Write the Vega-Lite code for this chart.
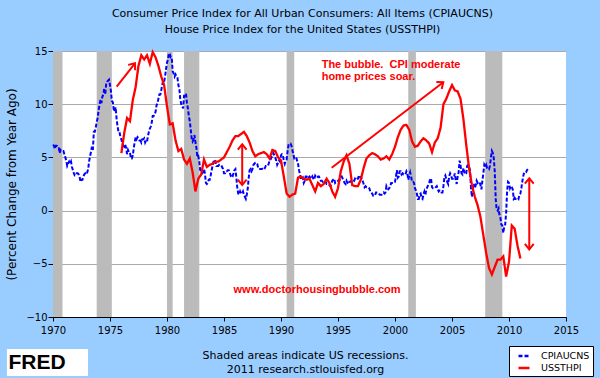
{
"$schema":"https://vega.github.io/schema/vega-lite/v6.json",
"width":513,"height":266,
"autosize":{"type":"none"},
"padding":{"left":53,"top":51,"right":34,"bottom":61},
"background":"#99CCFF",
"title":{"text":["Consumer Price Index for All Urban Consumers: All Items (CPIAUCNS)","House Price Index for the United States (USSTHPI)"],"fontSize":11,"fontWeight":"normal","font":"DejaVu Sans","lineHeight":16,"offset":11,"dx":-7,"anchor":"middle","frame":"group","color":"black"},
"config":{
"font":"DejaVu Sans",
"view":{"fill":"white","stroke":null},
"axis":{"labelColor":"black","titleColor":"black","domainColor":"black","tickColor":"black","labelFontSize":10,"titleFontWeight":"normal","labelFont":"DejaVu Sans","titleFont":"DejaVu Sans"},
"axisX":{"grid":false,"tickSize":4,"labelPadding":4,"labelFlush":false,"titleFontSize":11,"titlePadding":14,"titleLineHeight":14,"titleX":252},
"axisY":{"gridColor":"#AAAAAA","gridOpacity":1,"tickSize":5,"labelPadding":1,"titleFontSize":12,"titlePadding":7},
"legend":{"orient":"none","legendX":456,"legendY":295,"fillColor":"white","strokeColor":"black","padding":3,"symbolType":"stroke","symbolSize":121,"symbolStrokeWidth":2.5,"labelFontSize":9.5,"labelFont":"DejaVu Sans","labelColor":"black","labelOffset":10,"rowPadding":0,"symbolOffset":5}
},
"datasets":{
"rec":[{"start":"1969-12","end":"1970-11"},{"start":"1973-11","end":"1975-03"},{"start":"1980-01","end":"1980-07"},{"start":"1981-07","end":"1982-11"},{"start":"1990-07","end":"1991-03"},{"start":"2001-03","end":"2001-11"},{"start":"2007-12","end":"2009-06"}],
"cpi":[
{"d":"1970-01","v":6.2},{"d":"1970-02","v":6.1},{"d":"1970-03","v":5.8},{"d":"1970-04","v":6.1},{"d":"1970-05","v":6.1},{"d":"1970-06","v":6.0},{"d":"1970-07","v":6.0},{"d":"1970-08","v":5.4},{"d":"1970-09","v":5.7},{"d":"1970-10","v":5.6},{"d":"1970-11","v":5.6},{"d":"1970-12","v":5.6},
{"d":"1971-01","v":5.3},{"d":"1971-02","v":5.0},{"d":"1971-03","v":4.7},{"d":"1971-04","v":4.2},{"d":"1971-05","v":4.4},{"d":"1971-06","v":4.6},{"d":"1971-07","v":4.4},{"d":"1971-08","v":4.6},{"d":"1971-09","v":4.1},{"d":"1971-10","v":3.8},{"d":"1971-11","v":3.5},{"d":"1971-12","v":3.3},
{"d":"1972-01","v":3.3},{"d":"1972-02","v":3.5},{"d":"1972-03","v":3.5},{"d":"1972-04","v":3.4},{"d":"1972-05","v":3.2},{"d":"1972-06","v":2.7},{"d":"1972-07","v":2.9},{"d":"1972-08","v":2.9},{"d":"1972-09","v":3.2},{"d":"1972-10","v":3.4},{"d":"1972-11","v":3.5},{"d":"1972-12","v":3.4},
{"d":"1973-01","v":3.6},{"d":"1973-02","v":3.9},{"d":"1973-03","v":4.6},{"d":"1973-04","v":5.1},{"d":"1973-05","v":5.5},{"d":"1973-06","v":6.0},{"d":"1973-07","v":5.7},{"d":"1973-08","v":7.4},{"d":"1973-09","v":7.4},{"d":"1973-10","v":7.8},{"d":"1973-11","v":8.3},{"d":"1973-12","v":8.7},
{"d":"1974-01","v":9.4},{"d":"1974-02","v":10.0},{"d":"1974-03","v":10.4},{"d":"1974-04","v":10.1},{"d":"1974-05","v":10.7},{"d":"1974-06","v":10.9},{"d":"1974-07","v":11.5},{"d":"1974-08","v":10.9},{"d":"1974-09","v":11.9},{"d":"1974-10","v":12.1},{"d":"1974-11","v":12.2},{"d":"1974-12","v":12.3},
{"d":"1975-01","v":11.8},{"d":"1975-02","v":11.2},{"d":"1975-03","v":10.3},{"d":"1975-04","v":10.2},{"d":"1975-05","v":9.5},{"d":"1975-06","v":9.3},{"d":"1975-07","v":9.7},{"d":"1975-08","v":8.6},{"d":"1975-09","v":7.9},{"d":"1975-10","v":7.4},{"d":"1975-11","v":7.4},{"d":"1975-12","v":6.9},
{"d":"1976-01","v":6.7},{"d":"1976-02","v":6.3},{"d":"1976-03","v":6.1},{"d":"1976-04","v":6.0},{"d":"1976-05","v":6.2},{"d":"1976-06","v":5.9},{"d":"1976-07","v":5.3},{"d":"1976-08","v":5.7},{"d":"1976-09","v":5.5},{"d":"1976-10","v":5.5},{"d":"1976-11","v":4.9},{"d":"1976-12","v":4.9},
{"d":"1977-01","v":5.2},{"d":"1977-02","v":5.9},{"d":"1977-03","v":6.4},{"d":"1977-04","v":6.9},{"d":"1977-05","v":6.7},{"d":"1977-06","v":6.9},{"d":"1977-07","v":6.8},{"d":"1977-08","v":6.6},{"d":"1977-09","v":6.6},{"d":"1977-10","v":6.4},{"d":"1977-11","v":6.7},{"d":"1977-12","v":6.7},
{"d":"1978-01","v":6.8},{"d":"1978-02","v":6.4},{"d":"1978-03","v":6.6},{"d":"1978-04","v":6.5},{"d":"1978-05","v":7.0},{"d":"1978-06","v":7.4},{"d":"1978-07","v":7.7},{"d":"1978-08","v":7.9},{"d":"1978-09","v":8.3},{"d":"1978-10","v":8.9},{"d":"1978-11","v":8.9},{"d":"1978-12","v":9.0},
{"d":"1979-01","v":9.3},{"d":"1979-02","v":9.9},{"d":"1979-03","v":10.1},{"d":"1979-04","v":10.5},{"d":"1979-05","v":10.9},{"d":"1979-06","v":10.9},{"d":"1979-07","v":11.3},{"d":"1979-08","v":11.8},{"d":"1979-09","v":12.2},{"d":"1979-10","v":12.1},{"d":"1979-11","v":12.6},{"d":"1979-12","v":13.3},
{"d":"1980-01","v":13.9},{"d":"1980-02","v":14.2},{"d":"1980-03","v":14.8},{"d":"1980-04","v":14.7},{"d":"1980-05","v":14.4},{"d":"1980-06","v":14.4},{"d":"1980-07","v":13.1},{"d":"1980-08","v":12.9},{"d":"1980-09","v":12.6},{"d":"1980-10","v":12.8},{"d":"1980-11","v":12.6},{"d":"1980-12","v":12.5},
{"d":"1981-01","v":11.8},{"d":"1981-02","v":11.4},{"d":"1981-03","v":10.5},{"d":"1981-04","v":10.0},{"d":"1981-05","v":9.8},{"d":"1981-06","v":9.6},{"d":"1981-07","v":10.8},{"d":"1981-08","v":10.8},{"d":"1981-09","v":11.0},{"d":"1981-10","v":10.1},{"d":"1981-11","v":9.6},{"d":"1981-12","v":8.9},
{"d":"1982-01","v":8.4},{"d":"1982-02","v":7.6},{"d":"1982-03","v":6.8},{"d":"1982-04","v":6.5},{"d":"1982-05","v":6.7},{"d":"1982-06","v":7.1},{"d":"1982-07","v":6.4},{"d":"1982-08","v":5.9},{"d":"1982-09","v":5.0},{"d":"1982-10","v":5.1},{"d":"1982-11","v":4.6},{"d":"1982-12","v":3.8},
{"d":"1983-01","v":3.7},{"d":"1983-02","v":3.5},{"d":"1983-03","v":3.6},{"d":"1983-04","v":3.9},{"d":"1983-05","v":3.5},{"d":"1983-06","v":2.6},{"d":"1983-07","v":2.5},{"d":"1983-08","v":2.6},{"d":"1983-09","v":2.9},{"d":"1983-10","v":2.9},{"d":"1983-11","v":3.3},{"d":"1983-12","v":3.8},
{"d":"1984-01","v":4.2},{"d":"1984-02","v":4.6},{"d":"1984-03","v":4.8},{"d":"1984-04","v":4.6},{"d":"1984-05","v":4.2},{"d":"1984-06","v":4.2},{"d":"1984-07","v":4.2},{"d":"1984-08","v":4.3},{"d":"1984-09","v":4.3},{"d":"1984-10","v":4.3},{"d":"1984-11","v":4.1},{"d":"1984-12","v":3.9},
{"d":"1985-01","v":3.5},{"d":"1985-02","v":3.5},{"d":"1985-03","v":3.7},{"d":"1985-04","v":3.7},{"d":"1985-05","v":3.8},{"d":"1985-06","v":3.8},{"d":"1985-07","v":3.6},{"d":"1985-08","v":3.3},{"d":"1985-09","v":3.1},{"d":"1985-10","v":3.2},{"d":"1985-11","v":3.5},{"d":"1985-12","v":3.8},
{"d":"1986-01","v":3.9},{"d":"1986-02","v":3.1},{"d":"1986-03","v":2.2},{"d":"1986-04","v":1.6},{"d":"1986-05","v":1.5},{"d":"1986-06","v":1.8},{"d":"1986-07","v":1.6},{"d":"1986-08","v":1.6},{"d":"1986-09","v":1.8},{"d":"1986-10","v":1.5},{"d":"1986-11","v":1.3},{"d":"1986-12","v":1.1},
{"d":"1987-01","v":1.5},{"d":"1987-02","v":2.1},{"d":"1987-03","v":3.0},{"d":"1987-04","v":3.8},{"d":"1987-05","v":3.9},{"d":"1987-06","v":3.7},{"d":"1987-07","v":3.9},{"d":"1987-08","v":4.3},{"d":"1987-09","v":4.4},{"d":"1987-10","v":4.5},{"d":"1987-11","v":4.5},{"d":"1987-12","v":4.4},
{"d":"1988-01","v":4.0},{"d":"1988-02","v":3.9},{"d":"1988-03","v":3.9},{"d":"1988-04","v":3.9},{"d":"1988-05","v":3.9},{"d":"1988-06","v":4.0},{"d":"1988-07","v":4.1},{"d":"1988-08","v":4.0},{"d":"1988-09","v":4.2},{"d":"1988-10","v":4.2},{"d":"1988-11","v":4.2},{"d":"1988-12","v":4.4},
{"d":"1989-01","v":4.7},{"d":"1989-02","v":4.8},{"d":"1989-03","v":5.0},{"d":"1989-04","v":5.1},{"d":"1989-05","v":5.4},{"d":"1989-06","v":5.2},{"d":"1989-07","v":5.0},{"d":"1989-08","v":4.7},{"d":"1989-09","v":4.3},{"d":"1989-10","v":4.5},{"d":"1989-11","v":4.7},{"d":"1989-12","v":4.6},
{"d":"1990-01","v":5.2},{"d":"1990-02","v":5.3},{"d":"1990-03","v":5.2},{"d":"1990-04","v":4.7},{"d":"1990-05","v":4.4},{"d":"1990-06","v":4.7},{"d":"1990-07","v":4.8},{"d":"1990-08","v":5.6},{"d":"1990-09","v":6.2},{"d":"1990-10","v":6.3},{"d":"1990-11","v":6.3},{"d":"1990-12","v":6.1},
{"d":"1991-01","v":5.7},{"d":"1991-02","v":5.3},{"d":"1991-03","v":4.9},{"d":"1991-04","v":4.9},{"d":"1991-05","v":5.0},{"d":"1991-06","v":4.7},{"d":"1991-07","v":4.4},{"d":"1991-08","v":3.8},{"d":"1991-09","v":3.4},{"d":"1991-10","v":2.9},{"d":"1991-11","v":3.0},{"d":"1991-12","v":3.1},
{"d":"1992-01","v":2.6},{"d":"1992-02","v":2.8},{"d":"1992-03","v":3.2},{"d":"1992-04","v":3.2},{"d":"1992-05","v":3.0},{"d":"1992-06","v":3.1},{"d":"1992-07","v":3.2},{"d":"1992-08","v":3.1},{"d":"1992-09","v":3.0},{"d":"1992-10","v":3.2},{"d":"1992-11","v":3.0},{"d":"1992-12","v":2.9},
{"d":"1993-01","v":3.3},{"d":"1993-02","v":3.2},{"d":"1993-03","v":3.1},{"d":"1993-04","v":3.2},{"d":"1993-05","v":3.2},{"d":"1993-06","v":3.0},{"d":"1993-07","v":2.8},{"d":"1993-08","v":2.8},{"d":"1993-09","v":2.7},{"d":"1993-10","v":2.8},{"d":"1993-11","v":2.7},{"d":"1993-12","v":2.7},
{"d":"1994-01","v":2.5},{"d":"1994-02","v":2.5},{"d":"1994-03","v":2.5},{"d":"1994-04","v":2.4},{"d":"1994-05","v":2.3},{"d":"1994-06","v":2.5},{"d":"1994-07","v":2.8},{"d":"1994-08","v":2.9},{"d":"1994-09","v":3.0},{"d":"1994-10","v":2.6},{"d":"1994-11","v":2.7},{"d":"1994-12","v":2.7},
{"d":"1995-01","v":2.8},{"d":"1995-02","v":2.9},{"d":"1995-03","v":2.9},{"d":"1995-04","v":3.1},{"d":"1995-05","v":3.2},{"d":"1995-06","v":3.0},{"d":"1995-07","v":2.8},{"d":"1995-08","v":2.6},{"d":"1995-09","v":2.5},{"d":"1995-10","v":2.8},{"d":"1995-11","v":2.6},{"d":"1995-12","v":2.5},
{"d":"1996-01","v":2.7},{"d":"1996-02","v":2.7},{"d":"1996-03","v":2.8},{"d":"1996-04","v":2.9},{"d":"1996-05","v":2.9},{"d":"1996-06","v":2.8},{"d":"1996-07","v":3.0},{"d":"1996-08","v":2.9},{"d":"1996-09","v":3.0},{"d":"1996-10","v":3.0},{"d":"1996-11","v":3.3},{"d":"1996-12","v":3.3},
{"d":"1997-01","v":3.0},{"d":"1997-02","v":3.0},{"d":"1997-03","v":2.8},{"d":"1997-04","v":2.5},{"d":"1997-05","v":2.2},{"d":"1997-06","v":2.3},{"d":"1997-07","v":2.2},{"d":"1997-08","v":2.2},{"d":"1997-09","v":2.2},{"d":"1997-10","v":2.1},{"d":"1997-11","v":1.8},{"d":"1997-12","v":1.7},
{"d":"1998-01","v":1.6},{"d":"1998-02","v":1.4},{"d":"1998-03","v":1.4},{"d":"1998-04","v":1.4},{"d":"1998-05","v":1.7},{"d":"1998-06","v":1.7},{"d":"1998-07","v":1.7},{"d":"1998-08","v":1.6},{"d":"1998-09","v":1.5},{"d":"1998-10","v":1.5},{"d":"1998-11","v":1.5},{"d":"1998-12","v":1.6},
{"d":"1999-01","v":1.7},{"d":"1999-02","v":1.6},{"d":"1999-03","v":1.7},{"d":"1999-04","v":2.3},{"d":"1999-05","v":2.1},{"d":"1999-06","v":2.0},{"d":"1999-07","v":2.1},{"d":"1999-08","v":2.3},{"d":"1999-09","v":2.6},{"d":"1999-10","v":2.6},{"d":"1999-11","v":2.6},{"d":"1999-12","v":2.7},
{"d":"2000-01","v":2.7},{"d":"2000-02","v":3.2},{"d":"2000-03","v":3.8},{"d":"2000-04","v":3.1},{"d":"2000-05","v":3.2},{"d":"2000-06","v":3.7},{"d":"2000-07","v":3.7},{"d":"2000-08","v":3.4},{"d":"2000-09","v":3.5},{"d":"2000-10","v":3.4},{"d":"2000-11","v":3.4},{"d":"2000-12","v":3.4},
{"d":"2001-01","v":3.7},{"d":"2001-02","v":3.5},{"d":"2001-03","v":2.9},{"d":"2001-04","v":3.3},{"d":"2001-05","v":3.6},{"d":"2001-06","v":3.2},{"d":"2001-07","v":2.7},{"d":"2001-08","v":2.7},{"d":"2001-09","v":2.6},{"d":"2001-10","v":2.1},{"d":"2001-11","v":1.9},{"d":"2001-12","v":1.6},
{"d":"2002-01","v":1.1},{"d":"2002-02","v":1.1},{"d":"2002-03","v":1.5},{"d":"2002-04","v":1.6},{"d":"2002-05","v":1.2},{"d":"2002-06","v":1.1},{"d":"2002-07","v":1.5},{"d":"2002-08","v":1.8},{"d":"2002-09","v":1.5},{"d":"2002-10","v":2.0},{"d":"2002-11","v":2.2},{"d":"2002-12","v":2.4},
{"d":"2003-01","v":2.6},{"d":"2003-02","v":3.0},{"d":"2003-03","v":3.0},{"d":"2003-04","v":2.2},{"d":"2003-05","v":2.1},{"d":"2003-06","v":2.1},{"d":"2003-07","v":2.1},{"d":"2003-08","v":2.2},{"d":"2003-09","v":2.3},{"d":"2003-10","v":2.0},{"d":"2003-11","v":1.8},{"d":"2003-12","v":1.9},
{"d":"2004-01","v":1.9},{"d":"2004-02","v":1.7},{"d":"2004-03","v":1.7},{"d":"2004-04","v":2.3},{"d":"2004-05","v":3.1},{"d":"2004-06","v":3.3},{"d":"2004-07","v":3.0},{"d":"2004-08","v":2.7},{"d":"2004-09","v":2.5},{"d":"2004-10","v":3.2},{"d":"2004-11","v":3.5},{"d":"2004-12","v":3.3},
{"d":"2005-01","v":3.0},{"d":"2005-02","v":3.0},{"d":"2005-03","v":3.1},{"d":"2005-04","v":3.5},{"d":"2005-05","v":2.8},{"d":"2005-06","v":2.5},{"d":"2005-07","v":3.2},{"d":"2005-08","v":3.6},{"d":"2005-09","v":4.7},{"d":"2005-10","v":4.3},{"d":"2005-11","v":3.5},{"d":"2005-12","v":3.4},
{"d":"2006-01","v":4.0},{"d":"2006-02","v":3.6},{"d":"2006-03","v":3.4},{"d":"2006-04","v":3.5},{"d":"2006-05","v":4.2},{"d":"2006-06","v":4.3},{"d":"2006-07","v":4.1},{"d":"2006-08","v":3.8},{"d":"2006-09","v":2.1},{"d":"2006-10","v":1.3},{"d":"2006-11","v":2.0},{"d":"2006-12","v":2.5},
{"d":"2007-01","v":2.1},{"d":"2007-02","v":2.4},{"d":"2007-03","v":2.8},{"d":"2007-04","v":2.6},{"d":"2007-05","v":2.7},{"d":"2007-06","v":2.7},{"d":"2007-07","v":2.4},{"d":"2007-08","v":2.0},{"d":"2007-09","v":2.8},{"d":"2007-10","v":3.5},{"d":"2007-11","v":4.3},{"d":"2007-12","v":4.1},
{"d":"2008-01","v":4.3},{"d":"2008-02","v":4.0},{"d":"2008-03","v":4.0},{"d":"2008-04","v":3.9},{"d":"2008-05","v":4.2},{"d":"2008-06","v":5.0},{"d":"2008-07","v":5.6},{"d":"2008-08","v":5.4},{"d":"2008-09","v":4.9},{"d":"2008-10","v":3.7},{"d":"2008-11","v":1.1},{"d":"2008-12","v":0.1},
{"d":"2009-01","v":0.0},{"d":"2009-02","v":0.2},{"d":"2009-03","v":-0.4},{"d":"2009-04","v":-0.7},{"d":"2009-05","v":-1.3},{"d":"2009-06","v":-1.4},{"d":"2009-07","v":-2.1},{"d":"2009-08","v":-1.5},{"d":"2009-09","v":-1.3},{"d":"2009-10","v":-0.2},{"d":"2009-11","v":1.8},{"d":"2009-12","v":2.7},
{"d":"2010-01","v":2.6},{"d":"2010-02","v":2.1},{"d":"2010-03","v":2.3},{"d":"2010-04","v":2.2},{"d":"2010-05","v":2.0},{"d":"2010-06","v":1.1},{"d":"2010-07","v":1.2},{"d":"2010-08","v":1.1},{"d":"2010-09","v":1.1},{"d":"2010-10","v":1.2},{"d":"2010-11","v":1.1},{"d":"2010-12","v":1.5},
{"d":"2011-01","v":1.6},{"d":"2011-02","v":2.1},{"d":"2011-03","v":2.7},{"d":"2011-04","v":3.2},{"d":"2011-05","v":3.6},{"d":"2011-06","v":3.6},{"d":"2011-07","v":3.6},{"d":"2011-08","v":3.8},{"d":"2011-09","v":3.9}
],
"hpi":[
{"d":"1976-01","v":5.4},{"d":"1976-04","v":7.3},{"d":"1976-07","v":8.7},{"d":"1976-10","v":8.4},
{"d":"1977-01","v":10.4},{"d":"1977-04","v":11.6},{"d":"1977-07","v":13.6},{"d":"1977-10","v":14.6},
{"d":"1978-01","v":14.2},{"d":"1978-04","v":14.6},{"d":"1978-07","v":13.8},{"d":"1978-10","v":14.9},
{"d":"1979-01","v":14.4},{"d":"1979-04","v":13.6},{"d":"1979-07","v":12.6},{"d":"1979-10","v":11.8},
{"d":"1980-01","v":9.8},{"d":"1980-04","v":8.1},{"d":"1980-07","v":8.2},{"d":"1980-10","v":6.6},
{"d":"1981-01","v":5.6},{"d":"1981-04","v":5.8},{"d":"1981-07","v":4.8},{"d":"1981-10","v":4.4},
{"d":"1982-01","v":4.9},{"d":"1982-04","v":3.6},{"d":"1982-07","v":1.8},{"d":"1982-10","v":3.0},
{"d":"1983-01","v":3.4},{"d":"1983-04","v":4.8},{"d":"1983-07","v":4.1},{"d":"1983-10","v":4.3},
{"d":"1984-01","v":4.4},{"d":"1984-04","v":4.6},{"d":"1984-07","v":4.6},{"d":"1984-10","v":4.8},
{"d":"1985-01","v":5.0},{"d":"1985-04","v":5.5},{"d":"1985-07","v":6.0},{"d":"1985-10","v":6.6},
{"d":"1986-01","v":7.0},{"d":"1986-04","v":7.0},{"d":"1986-07","v":7.2},{"d":"1986-10","v":7.4},
{"d":"1987-01","v":7.0},{"d":"1987-04","v":6.4},{"d":"1987-07","v":5.6},{"d":"1987-10","v":5.1},
{"d":"1988-01","v":5.3},{"d":"1988-04","v":5.4},{"d":"1988-07","v":5.5},{"d":"1988-10","v":5.3},
{"d":"1989-01","v":4.9},{"d":"1989-04","v":5.7},{"d":"1989-07","v":5.6},{"d":"1989-10","v":5.0},
{"d":"1990-01","v":4.7},{"d":"1990-04","v":3.2},{"d":"1990-07","v":1.6},{"d":"1990-10","v":1.3},
{"d":"1991-01","v":1.5},{"d":"1991-04","v":1.6},{"d":"1991-07","v":3.1},{"d":"1991-10","v":3.2},
{"d":"1992-01","v":3.0},{"d":"1992-04","v":2.9},{"d":"1992-07","v":3.0},{"d":"1992-10","v":2.4},
{"d":"1993-01","v":1.8},{"d":"1993-04","v":2.6},{"d":"1993-07","v":2.3},{"d":"1993-10","v":2.5},
{"d":"1994-01","v":3.0},{"d":"1994-04","v":2.6},{"d":"1994-07","v":1.8},{"d":"1994-10","v":1.3},
{"d":"1995-01","v":2.1},{"d":"1995-04","v":3.7},{"d":"1995-07","v":4.6},{"d":"1995-10","v":5.2},
{"d":"1996-01","v":4.4},{"d":"1996-04","v":2.4},{"d":"1996-07","v":2.3},{"d":"1996-10","v":2.3},
{"d":"1997-01","v":2.9},{"d":"1997-04","v":4.0},{"d":"1997-07","v":4.9},{"d":"1997-10","v":5.2},
{"d":"1998-01","v":5.4},{"d":"1998-04","v":5.3},{"d":"1998-07","v":5.1},{"d":"1998-10","v":4.8},
{"d":"1999-01","v":4.9},{"d":"1999-04","v":5.1},{"d":"1999-07","v":4.8},{"d":"1999-10","v":5.3},
{"d":"2000-01","v":6.0},{"d":"2000-04","v":6.9},{"d":"2000-07","v":7.6},{"d":"2000-10","v":8.0},
{"d":"2001-01","v":8.05},{"d":"2001-04","v":7.6},{"d":"2001-07","v":6.5},{"d":"2001-10","v":6.0},
{"d":"2002-01","v":6.1},{"d":"2002-04","v":6.5},{"d":"2002-07","v":6.8},{"d":"2002-10","v":6.6},
{"d":"2003-01","v":6.3},{"d":"2003-04","v":5.5},{"d":"2003-07","v":6.4},{"d":"2003-10","v":6.8},
{"d":"2004-01","v":7.8},{"d":"2004-04","v":10.0},{"d":"2004-07","v":10.5},{"d":"2004-10","v":11.2},
{"d":"2005-01","v":11.8},{"d":"2005-04","v":11.3},{"d":"2005-07","v":11.2},{"d":"2005-10","v":10.5},
{"d":"2006-01","v":8.6},{"d":"2006-04","v":6.2},{"d":"2006-07","v":4.0},{"d":"2006-10","v":2.4},
{"d":"2007-01","v":1.3},{"d":"2007-04","v":0.5},{"d":"2007-07","v":-0.6},{"d":"2007-10","v":-2.3},
{"d":"2008-01","v":-4.0},{"d":"2008-04","v":-5.4},{"d":"2008-07","v":-6.0},{"d":"2008-10","v":-5.3},
{"d":"2009-01","v":-4.6},{"d":"2009-04","v":-4.6},{"d":"2009-07","v":-4.3},{"d":"2009-10","v":-6.2},
{"d":"2010-01","v":-4.8},{"d":"2010-04","v":-1.4},{"d":"2010-07","v":-1.7},{"d":"2010-10","v":-3.3},
{"d":"2011-01","v":-4.5}
],
"shafts":[{"x":"1975-08-04","y":11.65,"x2":"1977-03-11","y2":13.84},{"x":"1986-08-07","y":2.41,"x2":"1986-08-07","y2":6.23},{"x":"1994-06-13","y":4.03,"x2":"2004-03-28","y2":12.06},{"x":"2011-10-12","y":-3.64,"x2":"2011-10-12","y2":3.03}],
"notes":[{"x":"1993-07-27","y":13.68,"t":"The bubble.\u00a0 CPI moderate"},{"x":"1993-07-27","y":12.58,"t":"home prices soar."}]
},
"layer":[
{"data":{"name":"rec"},"mark":{"type":"rect","color":"#BBBBBB","clip":true},
 "encoding":{"x":{"field":"start","type":"temporal","scale":{"domain":["1970-01-01","2015-01-01"],"nice":false},"axis":{"title":["Shaded areas indicate US recessions.","2011 research.stlouisfed.org"],"format":"%Y","tickCount":{"interval":"year","step":5}}},"x2":{"field":"end"}}},
{"data":{"name":"cpi"},"mark":{"type":"line","strokeWidth":2,"strokeDash":[4,2]},
 "encoding":{"x":{"field":"d","type":"temporal","scale":{"domain":["1970-01-01","2015-01-01"],"nice":false}},
  "y":{"field":"v","type":"quantitative","scale":{"domain":[-10,15],"nice":false,"zero":false},"axis":{"title":"(Percent Change from Year Ago)","values":[-10,-5,0,5,10,15]}},
  "color":{"datum":"CPIAUCNS","scale":{"domain":["CPIAUCNS","USSTHPI"],"range":["#0000FF","#FF0000"]},"legend":{"title":null}},
  "strokeDash":{"datum":"CPIAUCNS","scale":{"domain":["CPIAUCNS","USSTHPI"],"range":[[4,2],[1,0]]},"legend":{"title":null}}}},
{"data":{"name":"hpi"},"mark":{"type":"line","strokeWidth":2.3},
 "encoding":{"x":{"field":"d","type":"temporal","scale":{"domain":["1970-01-01","2015-01-01"],"nice":false}},
  "y":{"field":"v","type":"quantitative","scale":{"domain":[-10,15],"nice":false,"zero":false}},
  "color":{"datum":"USSTHPI"},
  "strokeDash":{"datum":"USSTHPI"}}},
{"data":{"name":"shafts"},"mark":{"type":"rule","color":"#FF0000","strokeWidth":2},
 "encoding":{"x":{"field":"x","type":"temporal"},"x2":{"field":"x2"},"y":{"field":"y","type":"quantitative"},"y2":{"field":"y2"}}},
{"data":{"values":[{"x":"1986-08-07","y":6.23},{"x":"2011-10-12","y":3.03}]},"mark":{"type":"point","shape":"M-0.7,0.85L0,0L0.7,0.85","filled":false,"color":"#FF0000","strokeWidth":2,"size":160,"opacity":1,"angle":0},
 "encoding":{"x":{"field":"x","type":"temporal"},"y":{"field":"y","type":"quantitative"}}},
{"data":{"values":[{"x":"1986-08-07","y":2.41},{"x":"2011-10-12","y":-3.64}]},"mark":{"type":"point","shape":"M-0.7,0.85L0,0L0.7,0.85","filled":false,"color":"#FF0000","strokeWidth":2,"size":160,"opacity":1,"angle":180},
 "encoding":{"x":{"field":"x","type":"temporal"},"y":{"field":"y","type":"quantitative"}}},
{"data":{"values":[{"x":"1977-03-11","y":13.84}]},"mark":{"type":"point","shape":"M-0.7,0.85L0,0L0.7,0.85","filled":false,"color":"#FF0000","strokeWidth":2,"size":160,"opacity":1,"angle":38},
 "encoding":{"x":{"field":"x","type":"temporal"},"y":{"field":"y","type":"quantitative"}}},
{"data":{"values":[{"x":"2004-03-28","y":12.06}]},"mark":{"type":"point","shape":"M-0.7,0.85L0,0L0.7,0.85","filled":false,"color":"#FF0000","strokeWidth":2,"size":160,"opacity":1,"angle":53},
 "encoding":{"x":{"field":"x","type":"temporal"},"y":{"field":"y","type":"quantitative"}}},
{"data":{"name":"notes"},"mark":{"type":"text","color":"#FF0000","font":"Liberation Sans","fontWeight":"bold","fontSize":11,"align":"left","baseline":"middle"},
 "encoding":{"x":{"field":"x","type":"temporal"},"y":{"field":"y","type":"quantitative"},"text":{"field":"t"}}},
{"data":{"values":[{"x":"1993-03-01","y":-7.46,"t":"www.doctorhousingbubble.com"}]},"mark":{"type":"text","color":"#FF0000","font":"Liberation Sans","fontWeight":"bold","fontSize":11,"align":"center","baseline":"middle"},
 "encoding":{"x":{"field":"x","type":"temporal"},"y":{"field":"y","type":"quantitative"},"text":{"field":"t"}}},
{"data":{"values":[{"x":"1965-12-16","x2":"1973-01-26","y":-13.0,"y2":-15.55}]},"mark":{"type":"rect","color":"white"},
 "encoding":{"x":{"field":"x","type":"temporal"},"x2":{"field":"x2"},"y":{"field":"y","type":"quantitative"},"y2":{"field":"y2"}}},
{"data":{"values":[{"x":"1968-08-08","y":-14.3,"t":"FRED"}]},"mark":{"type":"text","color":"black","font":"Liberation Sans","fontWeight":"bold","fontSize":21,"align":"center","baseline":"middle"},
 "encoding":{"x":{"field":"x","type":"temporal"},"y":{"field":"y","type":"quantitative"},"text":{"field":"t"}}}
]
}
